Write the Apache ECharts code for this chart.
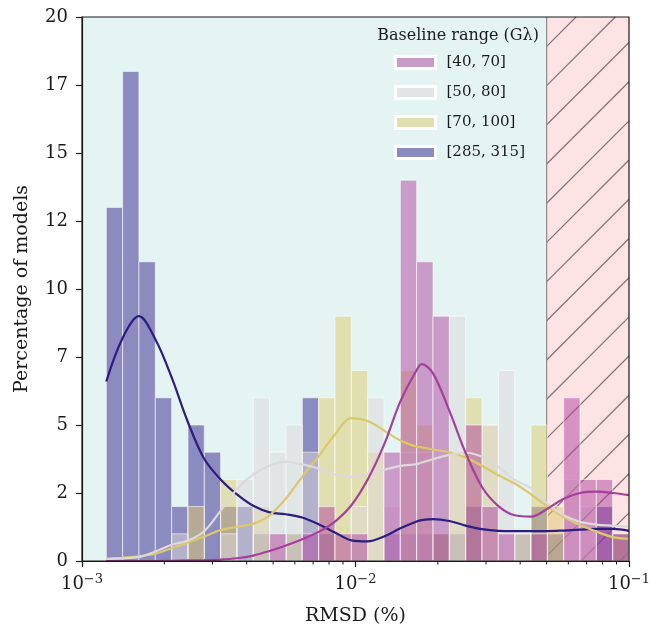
<!DOCTYPE html>
<html>
<head>
<meta charset="utf-8">
<script src="https://cdn.jsdelivr.net/npm/echarts@6/dist/echarts.min.js"></script>
<style>
  html, body { margin: 0; background: #fff; }
  #chart { width: 660px; height: 631px; }
</style>
</head>
<body>
<div id="chart"></div>
<script>
// baseline ranges (legend order)
const seriesNames = ['[40, 70]', '[50, 80]', '[70, 100]', '[285, 315]'];

// 32 log-spaced histogram bins between these RMSD values
const binLo = 0.001227;
const binHi = 0.1;
const binCount = 32;

// percentage of models per bin
const pct40 = [0, 0, 0, 0, 0, 0, 0, 0, 0, 0, 1, 0, 1, 2, 1, 1, 0, 4, 14, 11, 9, 0, 5, 2, 1, 0, 1, 0, 6, 3, 3, 1];
const pct50 = [0, 0, 0, 0, 1, 0, 0, 1, 3, 6, 4, 5, 4, 0, 0, 2, 6, 2, 4, 4, 0, 9, 0, 5, 7, 1, 0, 0, 3, 2, 0, 0];
const pct70 = [0, 0, 0, 0, 0, 2, 0, 3, 0, 2, 0, 1, 0, 6, 9, 7, 4, 0, 7, 5, 1, 4, 6, 5, 0, 1, 5, 2, 0, 0, 0, 1];
const pct285 = [13, 18, 11, 6, 2, 5, 4, 2, 2, 1, 0, 1, 6, 1, 0, 0, 0, 1, 1, 1, 1, 1, 2, 0, 0, 1, 2, 1, 0, 0, 2, 1];

// density curves
const kdeX = [0.001227, 0.001408, 0.001615, 0.001854, 0.002127, 0.00244, 0.0028, 0.003213, 0.003686, 0.00423,
  0.004853, 0.005568, 0.006389, 0.007331, 0.008412, 0.009656, 0.01108, 0.01271, 0.01459, 0.01674,
  0.01747, 0.0192, 0.02203, 0.02528, 0.02901, 0.03329, 0.0382, 0.04383, 0.0503, 0.05771,
  0.06622, 0.07599, 0.0872, 0.1];
const kde40 = [0, 0, 0, 0, 0.01, 0.02, 0.03, 0.05, 0.1, 0.2, 0.37, 0.57, 0.8, 1.07, 1.45, 2.05, 3.0, 4.27, 5.87, 7.02,
  7.24, 6.9, 5.53, 3.97, 2.72, 2.02, 1.68, 1.63, 1.92, 2.29, 2.5, 2.55, 2.5, 2.42];
const kde50 = [0.08, 0.1, 0.15, 0.35, 0.6, 0.75, 1.1, 1.85, 2.65, 3.18, 3.5, 3.65, 3.55, 3.4, 3.18, 3.1, 3.2, 3.35, 3.5, 3.56,
  3.62, 3.74, 3.9, 3.98, 3.83, 3.46, 2.98, 2.68, 2.1, 1.68, 1.44, 1.34, 1.3, 1.26];
const kde70 = [0.08, 0.12, 0.17, 0.27, 0.47, 0.68, 0.9, 1.14, 1.26, 1.37, 1.68, 2.3, 3.1, 3.85, 4.65, 5.25, 5.15, 4.8, 4.43, 4.2,
  4.18, 4.1, 4.0, 3.8, 3.5, 3.15, 2.85, 2.45, 2.0, 1.62, 1.32, 1.08, 0.88, 0.81];
const kde285 = [6.6, 8.2, 9.0, 8.15, 6.75, 5.1, 3.75, 3.0, 2.45, 2.03, 1.79, 1.72, 1.6, 1.35, 1.05, 0.76, 0.72, 0.9, 1.2, 1.45,
  1.5, 1.54, 1.47, 1.3, 1.17, 1.11, 1.1, 1.1, 1.1, 1.12, 1.15, 1.18, 1.18, 1.11];

// shaded zones: acceptable / excluded RMSD
const zones = [[0.001, 0.05], [0.05, 0.1]];
const minorTicks = [0.002, 0.003, 0.004, 0.005, 0.006, 0.007, 0.008, 0.009,
  0.02, 0.03, 0.04, 0.05, 0.06, 0.07, 0.08, 0.09];

const font = 'DejaVu Serif';
const ink = '#1a1a1a';
const colors = {
  '[40, 70]': '173,66,158',
  '[50, 80]': '221,216,218',
  '[70, 100]': '221,202,110',
  '[285, 315]': '51,34,140'
};
const lineColors = {
  '[40, 70]': '#a63f9c',
  '[50, 80]': '#dcd9da',
  '[70, 100]': '#dcc86c',
  '[285, 315]': '#2c1d82'
};

const edges = [];
for (let i = 0; i <= binCount; i++) edges.push(binLo * Math.pow(binHi / binLo, i / binCount));

function barSeries(name, values) {
  const rgb = colors[name];
  return {
    type: 'custom',
    name: name,
    z: 2,
    silent: true,
    itemStyle: { color: 'rgba(' + rgb + ',0.5)' },
    encode: { x: [0, 1], y: 2 },
    data: values.map((v, i) => [edges[i], edges[i + 1], v]).filter(d => d[2] > 0),
    renderItem: function (params, api) {
      const a = api.coord([api.value(0), api.value(2)]);
      const b = api.coord([api.value(1), 0]);
      return {
        type: 'rect',
        shape: { x: a[0], y: a[1], width: b[0] - a[0], height: b[1] - a[1] },
        style: { fill: 'rgba(' + rgb + ',0.5)', stroke: 'rgba(255,255,255,0.6)', lineWidth: 1 }
      };
    }
  };
}

function kdeSeries(name, values) {
  return {
    type: 'line',
    name: 'kde ' + name,
    z: 3,
    silent: true,
    showSymbol: false,
    smooth: 0.35,
    data: kdeX.map((x, i) => [x, values[i]]),
    lineStyle: { color: lineColors[name], width: 2.2 },
    itemStyle: { color: lineColors[name] }
  };
}

const zoneSeries = {
  type: 'custom',
  z: 1,
  silent: true,
  encode: { x: [0, 1] },
  data: zones,
  renderItem: function (params, api) {
    const cs = params.coordSys;
    const x0 = api.coord([api.value(0), 0])[0];
    const x1 = api.coord([api.value(1), 0])[0];
    const y0 = cs.y, y1 = cs.y + cs.height;
    const rect = { type: 'rect', shape: { x: x0, y: y0, width: x1 - x0, height: y1 - y0 } };
    if (params.dataIndex === 0) {
      rect.style = { fill: '#e3f4f2' };
      return rect;
    }
    rect.style = { fill: '#fee3e5' };
    const children = [rect];
    // "/" hatching
    const gap = 39.2;
    for (let c = x0 + y0 + 29.4 - gap; c < x1 + y1; c += gap) {
      const xa = Math.max(x0, c - y1), xb = Math.min(x1, c - y0);
      if (xb - xa > 0.5) {
        children.push({
          type: 'line',
          shape: { x1: xa, y1: c - xa, x2: xb, y2: c - xb },
          style: { stroke: '#8c7474', lineWidth: 1.3 }
        });
      }
    }
    children.push({
      type: 'line',
      shape: { x1: x0, y1: y0, x2: x0, y2: y1 },
      style: { stroke: '#8a8a8a', lineWidth: 1.2 }
    });
    return { type: 'group', children: children };
  }
};

// minor ticks of the log axis, placed through the axis scale
const minorTickSeries = {
  type: 'custom',
  z: 10,
  silent: true,
  clip: false,
  encode: { x: 0 },
  data: minorTicks.map(v => [v]),
  renderItem: function (params, api) {
    const cs = params.coordSys;
    const x = api.coord([api.value(0), 0])[0];
    const y = cs.y + cs.height;
    return {
      type: 'line',
      shape: { x1: x, y1: y, x2: x, y2: y + 3.5 },
      style: { stroke: ink, lineWidth: 1 }
    };
  }
};

const chart = echarts.init(document.getElementById('chart'));
chart.setOption({
  animation: false,
  title: {
    text: 'Baseline range (Gλ)',
    right: 116,
    top: 23,
    textStyle: { fontFamily: font, fontSize: 16, fontWeight: 'normal', color: ink }
  },
  legend: {
    data: seriesNames,
    orient: 'vertical',
    left: 394,
    top: 55,
    padding: 0,
    icon: 'rect',
    itemWidth: 40,
    itemHeight: 12,
    itemGap: 15,
    selectedMode: false,
    itemStyle: { borderColor: '#fff', borderWidth: 3 },
    textStyle: { fontFamily: font, fontSize: 15, color: ink, padding: [0, 0, 0, 6] }
  },
  grid: {
    left: 82, right: 31, top: 17, bottom: 70,
    show: true, z: 10,
    backgroundColor: 'transparent',
    borderColor: ink, borderWidth: 1.2
  },
  xAxis: {
    type: 'log',
    logBase: 10,
    min: 0.001,
    max: 0.1,
    z: 10,
    name: 'RMSD (%)',
    nameLocation: 'middle',
    nameGap: 46,
    nameTextStyle: { fontFamily: font, fontSize: 19, color: ink },
    axisLine: { lineStyle: { color: ink, width: 1.2 } },
    axisTick: { length: 6, lineStyle: { color: ink, width: 1.2 } },
    splitLine: { show: false },
    axisLabel: {
      margin: 12,
      formatter: v => '{b|10}{s|\u2212' + (-Math.round(Math.log10(v))) + '}',
      rich: {
        b: { fontFamily: font, fontSize: 18, lineHeight: 22, color: ink },
        s: { fontFamily: font, fontSize: 13, lineHeight: 13, verticalAlign: 'top', color: ink }
      }
    }
  },
  yAxis: {
    type: 'value',
    min: 0,
    max: 20,
    interval: 2.5,
    z: 10,
    name: 'Percentage of models',
    nameLocation: 'middle',
    nameGap: 50,
    nameTextStyle: { fontFamily: font, fontSize: 19, color: ink },
    axisLine: { show: true, lineStyle: { color: ink, width: 1.2 } },
    axisTick: { show: true, length: 6, lineStyle: { color: ink, width: 1.2 } },
    splitLine: { show: false },
    axisLabel: {
      margin: 14,
      fontFamily: font,
      fontSize: 18,
      color: ink,
      formatter: v => String(Math.floor(v))
    }
  },
  series: [
    zoneSeries,
    barSeries('[285, 315]', pct285),
    barSeries('[70, 100]', pct70),
    barSeries('[50, 80]', pct50),
    barSeries('[40, 70]', pct40),
    kdeSeries('[285, 315]', kde285),
    kdeSeries('[70, 100]', kde70),
    kdeSeries('[50, 80]', kde50),
    kdeSeries('[40, 70]', kde40),
    minorTickSeries
  ]
});
</script>
</body>
</html>
